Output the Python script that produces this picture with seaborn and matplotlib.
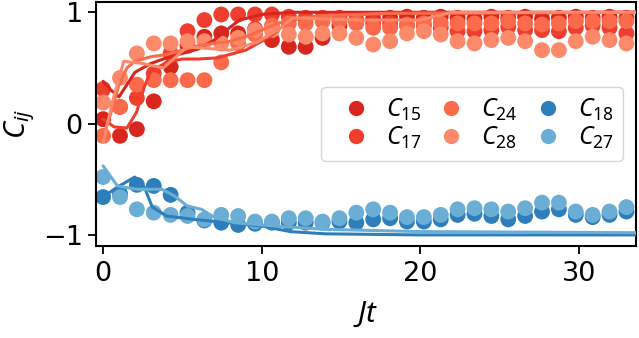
import numpy as np
import pandas as pd
import matplotlib
matplotlib.use("Agg")
import matplotlib.pyplot as plt
import seaborn as sns

# measured correlations, sampled on a regular grid of 32 points from Jt=0 to 33
t_meas = np.linspace(0, 33, 32)

c15_meas = [0.04, -0.11, -0.05, 0.20, 0.51, 0.70, 0.78, 0.81, 0.81, 0.85, 0.75, 0.69,
            0.69, 0.77, 0.88, 0.92, 0.94, 0.95, 0.96, 0.95, 0.96, 0.95, 0.94, 0.96,
            0.95, 0.96, 0.94, 0.95, 0.96, 0.95, 0.96, 0.95]
c17_meas = [0.31, 0.15, 0.23, 0.45, 0.63, 0.83, 0.93, 0.98, 0.98, 0.98, 0.98, 0.96,
            0.95, 0.95, 0.95, 0.93, 0.90, 0.90, 0.88, 0.88, 0.86, 0.83, 0.83, 0.84,
            0.87, 0.84, 0.84, 0.83, 0.86, 0.88, 0.86, 0.81]
c24_meas = [-0.11, 0.15, 0.35, 0.39, 0.39, 0.39, 0.39, 0.55, 0.72, 0.80, 0.88, 0.90,
            0.90, 0.92, 0.92, 0.90, 0.86, 0.86, 0.89, 0.90, 0.90, 0.90, 0.90, 0.90,
            0.92, 0.90, 0.89, 0.90, 0.92, 0.92, 0.92, 0.92]
c28_meas = [0.19, 0.41, 0.63, 0.72, 0.72, 0.74, 0.74, 0.72, 0.77, 0.84, 0.84, 0.80,
            0.78, 0.81, 0.81, 0.77, 0.71, 0.74, 0.81, 0.83, 0.80, 0.74, 0.72, 0.75,
            0.77, 0.74, 0.66, 0.66, 0.74, 0.78, 0.75, 0.72]
c18_meas = [-0.66, -0.63, -0.55, -0.56, -0.64, -0.80, -0.87, -0.89, -0.91, -0.90, -0.89, -0.89,
            -0.89, -0.89, -0.88, -0.89, -0.86, -0.85, -0.88, -0.88, -0.86, -0.82, -0.81, -0.83,
            -0.86, -0.83, -0.79, -0.77, -0.82, -0.84, -0.82, -0.79]
c27_meas = [-0.48, -0.66, -0.77, -0.80, -0.82, -0.83, -0.86, -0.82, -0.83, -0.88, -0.88, -0.85,
            -0.85, -0.88, -0.85, -0.80, -0.77, -0.80, -0.84, -0.84, -0.82, -0.77, -0.76, -0.77,
            -0.79, -0.76, -0.71, -0.71, -0.79, -0.82, -0.79, -0.75]

# theory curves
t_c15 = [0, 0.5, 1, 2, 3, 4, 5, 6, 7, 7.6, 8.6, 10, 12, 33.6]
c15_th = [0.38, 0.3, 0.24, 0.46, 0.54, 0.59, 0.63, 0.67, 0.75, 0.82, 0.93, 0.98, 1.0, 1.0]
t_c17 = [0, 0.7, 1.5, 2.1, 2.6, 3, 4, 5, 6, 7.2, 9, 10.5, 11.8, 14, 18, 33.6]
c17_th = [0.04, -0.03, -0.04, 0.1, 0.33, 0.47, 0.55, 0.58, 0.58, 0.59, 0.66, 0.78, 0.93, 0.97, 0.99, 1.0]
t_c24 = [0, 0.5, 1, 1.5, 2, 3, 4, 5, 6, 7, 8, 9, 10, 11, 12, 14, 18, 33.6]
c24_th = [-0.12, 0.1, 0.35, 0.5, 0.56, 0.6, 0.62, 0.66, 0.7, 0.72, 0.74, 0.78, 0.84, 0.9, 0.94, 0.97, 0.99, 1.0]
t_c28 = [0, 0.6, 1.3, 2.5, 3.8, 5.3, 8, 9.7, 11, 12, 16, 20, 22, 33.6]
c28_th = [-0.17, 0.2, 0.56, 0.54, 0.5, 0.69, 0.66, 0.73, 0.84, 0.95, 0.93, 0.93, 1.0, 1.0]
t_c18 = [0, 0.9, 2, 2.6, 3.1, 4, 5.7, 7.8, 10, 11.8, 14, 20, 33.6]
c18_th = [-0.66, -0.57, -0.48, -0.57, -0.75, -0.83, -0.86, -0.89, -0.92, -0.97, -0.99, -1.0, -1.0]
t_c27 = [0, 0.9, 2.1, 3.7, 4.5, 5.3, 6.2, 7, 8.3, 10.8, 14, 20, 33.6]
c27_th = [-0.38, -0.56, -0.59, -0.59, -0.65, -0.74, -0.77, -0.84, -0.89, -0.92, -0.95, -0.97, -0.98]

pairs = ["$C_{15}$", "$C_{17}$", "$C_{24}$", "$C_{28}$", "$C_{18}$", "$C_{27}$"]
colors = ["#d7261e", "#ef3d2e", "#fb6a4a", "#fc8969", "#2f7ebc", "#6aaed6"]
meas = [c15_meas, c17_meas, c24_meas, c28_meas, c18_meas, c27_meas]
theory = [(t_c15, c15_th), (t_c17, c17_th), (t_c24, c24_th),
          (t_c28, c28_th), (t_c18, c18_th), (t_c27, c27_th)]

df_pts = pd.concat([pd.DataFrame({"t": t_meas, "C": v, "pair": p})
                    for p, v in zip(pairs, meas)], ignore_index=True)
df_th = pd.concat([pd.DataFrame({"t": tt, "C": cc, "pair": p})
                   for p, (tt, cc) in zip(pairs, theory)], ignore_index=True)
palette = dict(zip(pairs, colors))

sns.set_style("ticks")
plt.rcParams["font.family"] = ["DejaVu Sans"]
plt.rcParams["mathtext.fontset"] = "custom"
plt.rcParams["mathtext.it"] = "Noto Sans:italic"
plt.rcParams["mathtext.rm"] = "Noto Sans"
plt.rcParams["text.color"] = "black"
plt.rcParams["axes.labelcolor"] = "black"
plt.rcParams["xtick.color"] = "black"
plt.rcParams["ytick.color"] = "black"

fig = plt.figure(figsize=(6.39, 3.38), dpi=100)
ax = fig.add_axes([0.1502, 0.272, 0.845, 0.723])

sns.scatterplot(data=df_pts, x="t", y="C", hue="pair", hue_order=pairs,
                palette=palette, s=130, linewidth=0, ax=ax, zorder=2)
sns.lineplot(data=df_th, x="t", y="C", hue="pair", hue_order=pairs,
             palette=palette, estimator=None, sort=False, lw=2.2,
             legend=False, ax=ax, zorder=3)

ax.set_xlim(-0.45, 33.6)
ax.set_ylim(-1.1, 1.095)
ax.set_xticks([0, 10, 20, 30])
ax.set_yticks([-1, 0, 1])
ax.set_xlabel("$Jt$", fontsize=21, labelpad=9)
ax.set_ylabel("$C_{ij}$", fontsize=21)
ax.tick_params(labelsize=19.5, length=6, width=1.3, color="black", labelcolor="black")
ax.tick_params(axis="x", pad=5)
for sp in ax.spines.values():
    sp.set_visible(True)
    sp.set_linewidth(1.5)
    sp.set_color("black")

sns.move_legend(ax, "center right", ncol=3, title=None, fontsize=18,
                frameon=True, handlelength=2.0, handletextpad=0.2,
                columnspacing=0.2, labelspacing=0.05, borderpad=0.4)
leg = ax.get_legend()
for h in leg.legend_handles:
    if hasattr(h, "set_markersize"):
        h.set_markersize(11)
    else:
        h.set_sizes([130])

fig.savefig("out.png", dpi=100)
